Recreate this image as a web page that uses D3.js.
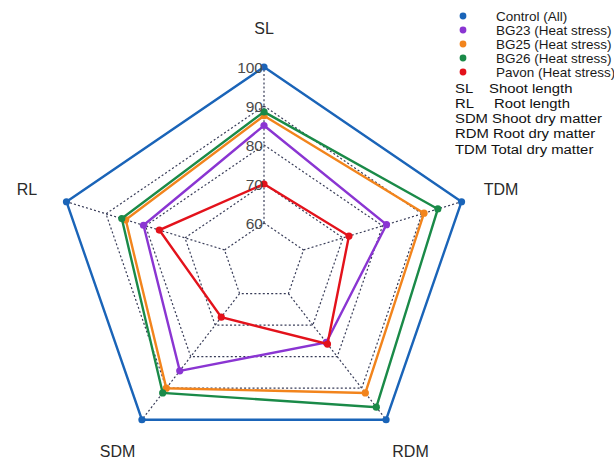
<!DOCTYPE html>
<html>
<head>
<meta charset="utf-8">
<script src="https://cdn.jsdelivr.net/npm/d3@7"></script>
<style>
  html, body { margin: 0; padding: 0; background: #fff; }
  svg { display: block; }
</style>
</head>
<body>
<svg id="chart" width="614" height="459"></svg>
<script>
// Traits, clockwise from the top
const axes = ["SL", "TDM", "RDM", "SDM", "RL"];

// Relative performance (% of control) per trait, in the order of `axes`
const control = [100, 100, 100, 100, 100];
const bg23    = [85, 81, 75.5, 84.5, 80.5];
const bg25    = [87.5, 90.5, 91.5, 90, 85];
const bg26    = [88.5, 94, 96, 91.5, 86];
const pavon   = [70, 71.5, 76, 67.5, 76.5];

const seriesNames = ["Control (All)", "BG23 (Heat stress)", "BG25 (Heat stress)", "BG26 (Heat stress)", "Pavon (Heat stress)"];
const seriesValues = [control, bg23, bg25, bg26, pavon];
const seriesColors = ["#1a64b8", "#8a35d2", "#f2841c", "#1a8a48", "#e3121b"];

const ringTicks = [60, 70, 80, 90, 100];

const abbreviations = [
  "SL    Shoot length",
  "RL     Root length",
  "SDM Shoot dry matter",
  "RDM Root dry matter",
  "TDM Total dry matter"
];

const svg = d3.select("#chart");

const cx = 264, cy = 262, Rx = 207.7, Ry = 195;
const r = d3.scaleLinear().domain([50, 100]).range([0, 1]);
const angle = d3.scaleLinear().domain([0, axes.length]).range([0, 2 * Math.PI]);

function pt(i, v) {
  const a = angle(i), k = r(v);
  return [cx + Rx * k * Math.sin(a), cy - Ry * k * Math.cos(a)];
}

const line = d3.line().curve(d3.curveLinearClosed);

// Grid rings
const grid = svg.append("g").attr("class", "grid");
grid.selectAll("path.ring")
  .data(ringTicks.slice(0, -1))
  .join("path")
  .attr("class", "ring")
  .attr("d", t => line(axes.map((_, i) => pt(i, t))))
  .attr("fill", "none")
  .attr("stroke", "#383c58")
  .attr("stroke-width", 1.2)
  .attr("stroke-dasharray", "2,2.2");

// Spokes
grid.selectAll("line.spoke")
  .data(axes)
  .join("line")
  .attr("class", "spoke")
  .attr("x1", (_, i) => pt(i, ringTicks[0])[0])
  .attr("y1", (_, i) => pt(i, ringTicks[0])[1])
  .attr("x2", (_, i) => pt(i, ringTicks[ringTicks.length - 1])[0])
  .attr("y2", (_, i) => pt(i, ringTicks[ringTicks.length - 1])[1])
  .attr("stroke", "#383c58")
  .attr("stroke-width", 1.2)
  .attr("stroke-dasharray", "2,2.2");

// Series polygons and points
const series = svg.append("g").selectAll("g.series")
  .data(seriesValues)
  .join("g")
  .attr("class", "series");

series.append("path")
  .attr("d", vals => line(vals.map((v, i) => pt(i, v))))
  .attr("fill", "none")
  .attr("stroke", (_, j) => seriesColors[j])
  .attr("stroke-width", 2.4)
  .attr("stroke-linejoin", "miter");

series.each(function(vals, j) {
  d3.select(this).selectAll("circle")
    .data(vals)
    .join("circle")
    .attr("cx", (v, i) => pt(i, v)[0])
    .attr("cy", (v, i) => pt(i, v)[1])
    .attr("r", 3.6)
    .attr("fill", seriesColors[j]);
});

// Ring tick labels along the SL axis
svg.append("g").selectAll("text")
  .data(ringTicks)
  .join("text")
  .attr("x", t => pt(0, t)[0] - 1)
  .attr("y", t => pt(0, t)[1])
  .attr("dy", "0.36em")
  .attr("text-anchor", "end")
  .attr("font-family", "Liberation Sans, Arial, sans-serif")
  .attr("font-size", 15.5)
  .attr("fill", "#4a4a4a")
  .text(t => t);

// Axis names
svg.append("g").selectAll("text")
  .data(axes)
  .join("text")
  .attr("x", (_, i) => cx + Rx * 1.2 * Math.sin(angle(i)))
  .attr("y", (_, i) => cy - Ry * 1.2 * Math.cos(angle(i)))
  .attr("dy", "0.36em")
  .attr("text-anchor", "middle")
  .attr("font-family", "Liberation Sans, Arial, sans-serif")
  .attr("font-size", 16)
  .attr("fill", "#2a2a2a")
  .text(d => d);

// Legend: coloured markers with series names
const nameRow = j => 16 + j * 14;
svg.append("g").selectAll("circle")
  .data(seriesNames)
  .join("circle")
  .attr("cx", 463)
  .attr("cy", (_, j) => nameRow(j))
  .attr("r", 3.4)
  .attr("fill", (_, j) => seriesColors[j]);

svg.append("g").selectAll("text")
  .data(seriesNames)
  .join("text")
  .attr("transform", (_, j) => `translate(496,${nameRow(j)}) scale(1.08,1)`)
  .attr("dy", "0.36em")
  .attr("font-family", "Liberation Sans, Arial, sans-serif")
  .attr("font-size", 12.5)
  .attr("fill", "#1a1a1a")
  .text(d => d);

// Trait abbreviations
const abbrRow = j => 88 + j * 15.2;
svg.append("g").selectAll("text")
  .data(abbreviations)
  .join("text")
  .attr("transform", (_, j) => `translate(455,${abbrRow(j)}) scale(1.1,1)`)
  .attr("dy", "0.36em")
  .attr("font-family", "Liberation Sans, Arial, sans-serif")
  .attr("font-size", 13.5)
  .attr("fill", "#111")
  .style("white-space", "pre")
  .text(d => d);
</script>
</body>
</html>
